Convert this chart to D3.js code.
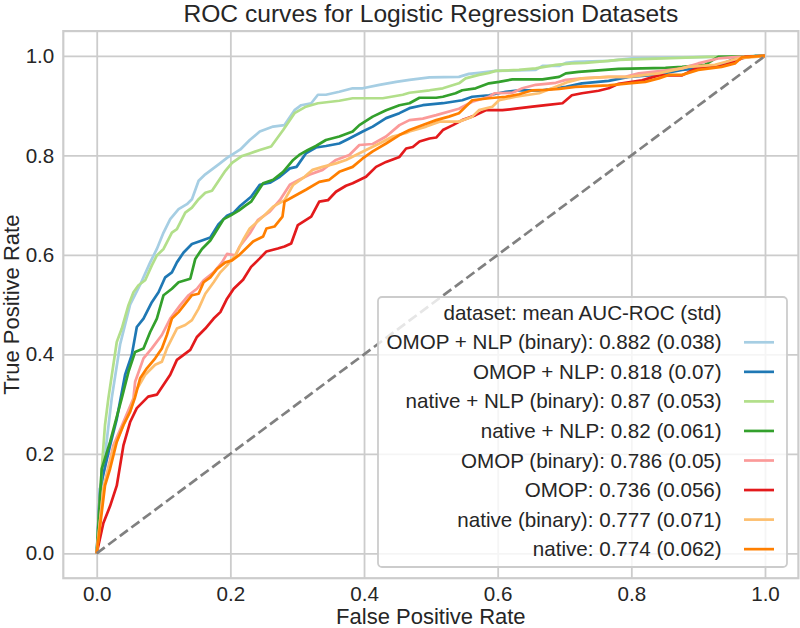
<!DOCTYPE html>
<html><head><meta charset="utf-8">
<script src="https://cdn.jsdelivr.net/npm/d3@7"></script>
<style>body{margin:0;background:#fff} text{font-family:"Liberation Sans",Arial,sans-serif;fill:#262626}</style>
</head><body><svg id="chart" width="800" height="628"></svg>
<script>
const titleText = "ROC curves for Logistic Regression Datasets";
const xLabel = "False Positive Rate";
const yLabel = "True Positive Rate";
const legendTitle = "dataset: mean AUC-ROC (std)";
const tickValues = [0, 0.2, 0.4, 0.6, 0.8, 1.0];
const seriesLabels = [
  "OMOP + NLP (binary): 0.882 (0.038)",
  "OMOP + NLP: 0.818 (0.07)",
  "native + NLP (binary): 0.87 (0.053)",
  "native + NLP: 0.82 (0.061)",
  "OMOP (binary): 0.786 (0.05)",
  "OMOP: 0.736 (0.056)",
  "native (binary): 0.777 (0.071)",
  "native: 0.774 (0.062)"
];
const seriesColors = ["#a6cee3","#1f78b4","#b2df8a","#33a02c","#fb9a99","#e31a1c","#fdbf6f","#ff7f00"];

// [fpr, tpr] pairs
const omopNlpBinary = [[0,0],[.01,.17],[.0225,.312],[.035,.42],[.05,.50],[.065,.54],[.08,.585],[.09,.612],[.1,.645],[.11,.672],[.1225,.692],[.135,.702],[.1425,.712],[.1525,.749],[.1625,.762],[.1725,.772],[.1825,.782],[.195,.795],[.215,.812],[.229,.831],[.244,.848],[.264,.858],[.281,.861],[.296,.891],[.306,.901],[.321,.905],[.331,.922],[.343,.922],[.363,.928],[.383,.935],[.398,.935],[.423,.942],[.448,.948],[.468,.952],[.498,.957],[.542,.958],[.557,.964],[.572,.966],[.597,.970],[.657,.972],[.667,.980],[.692,.980],[.702,.986],[.716,.988],[.766,.990],[.801,.995],[.915,.998],[1,1]];
const omopNlp = [[0,0],[.005,.13],[.02,.217],[.03,.27],[.0425,.359],[.0525,.399],[.06,.455],[.07,.472],[.0825,.505],[.0925,.525],[.1025,.555],[.1125,.565],[.12,.585],[.13,.605],[.1425,.622],[.1575,.629],[.17,.635],[.1825,.662],[.195,.679],[.205,.685],[.215,.699],[.231,.717],[.244,.741],[.259,.745],[.274,.757],[.289,.774],[.299,.777],[.313,.804],[.328,.816],[.343,.819],[.363,.824],[.378,.834],[.398,.848],[.413,.858],[.433,.875],[.453,.885],[.468,.895],[.488,.901],[.518,.905],[.547,.911],[.562,.918],[.587,.921],[.612,.928],[.632,.931],[.667,.931],[.702,.938],[.726,.945],[.766,.950],[.796,.958],[.836,.962],[.876,.972],[.925,.978],[.950,.992],[.985,1],[1,1]];
const nativeNlpBinary = [[0,0],[.0075,.17],[.0124,.258],[.0175,.312],[.03,.425],[.0375,.452],[.0475,.499],[.055,.525],[.0625,.539],[.0725,.549],[.0825,.579],[.09,.599],[.1,.612],[.1125,.645],[.12,.652],[.1325,.685],[.1425,.695],[.1525,.712],[.1625,.725],[.1725,.729],[.1825,.749],[.1925,.769],[.2025,.785],[.2175,.799],[.229,.804],[.244,.811],[.261,.818],[.279,.851],[.296,.885],[.313,.898],[.331,.905],[.363,.910],[.383,.915],[.428,.915],[.458,.922],[.468,.926],[.498,.931],[.518,.935],[.542,.945],[.552,.955],[.572,.962],[.587,.966],[.597,.970],[.632,.972],[.657,.975],[.687,.982],[.711,.985],[.731,.986],[.766,.990],[.781,.992],[.915,.998],[1,1]];
const nativeNlp = [[0,0],[.0075,.17],[.02,.224],[.0375,.312],[.0475,.365],[.0575,.405],[.07,.412],[.08,.445],[.09,.472],[.1,.519],[.1125,.532],[.1225,.545],[.14,.552],[.1475,.592],[.1575,.612],[.17,.629],[.1775,.645],[.19,.672],[.2,.679],[.2125,.689],[.2225,.699],[.231,.707],[.249,.744],[.264,.751],[.279,.767],[.294,.791],[.303,.801],[.316,.811],[.328,.819],[.343,.831],[.363,.838],[.383,.848],[.393,.861],[.413,.878],[.433,.891],[.453,.901],[.468,.905],[.483,.916],[.508,.916],[.518,.918],[.537,.925],[.547,.931],[.567,.935],[.587,.945],[.602,.948],[.622,.953],[.667,.953],[.692,.958],[.702,.965],[.721,.968],[.781,.974],[.851,.976],[.876,.978],[.910,.982],[.930,.998],[1,1]];
const omopBinary = [[0,0],[.01,.129],[.025,.217],[.04,.264],[.055,.312],[.0575,.345],[.07,.392],[.0825,.412],[.0975,.439],[.11,.472],[.125,.499],[.1375,.519],[.15,.532],[.16,.549],[.175,.565],[.1875,.585],[.195,.602],[.2075,.599],[.214,.617],[.229,.643],[.241,.670],[.259,.687],[.274,.710],[.289,.741],[.303,.751],[.318,.761],[.338,.771],[.358,.791],[.378,.801],[.393,.821],[.413,.823],[.433,.838],[.453,.861],[.468,.871],[.488,.874],[.508,.881],[.542,.894],[.562,.908],[.587,.918],[.595,.925],[.622,.926],[.637,.935],[.657,.942],[.687,.946],[.702,.952],[.726,.955],[.766,.958],[.791,.958],[.811,.965],[.846,.970],[.876,.975],[.900,.985],[.930,.995],[.960,.998],[1,1]];
const omop = [[0,0],[.01,.061],[.02,.095],[.03,.136],[.04,.217],[.05,.264],[.06,.292],[.077,.315],[.09,.319],[.1,.339],[.11,.359],[.12,.389],[.13,.399],[.14,.409],[.15,.435],[.1625,.452],[.175,.472],[.185,.485],[.195,.512],[.205,.532],[.219,.550],[.231,.576],[.244,.593],[.254,.607],[.271,.613],[.281,.617],[.291,.623],[.301,.660],[.321,.677],[.333,.707],[.346,.710],[.358,.727],[.373,.739],[.383,.744],[.403,.757],[.418,.777],[.433,.787],[.453,.797],[.463,.814],[.473,.817],[.483,.828],[.498,.834],[.508,.836],[.518,.851],[.533,.861],[.547,.871],[.567,.881],[.582,.891],[.607,.891],[.627,.894],[.652,.898],[.672,.901],[.697,.905],[.711,.921],[.726,.925],[.751,.930],[.766,.935],[.781,.944],[.801,.948],[.816,.951],[.841,.961],[.876,.961],[.895,.974],[.935,.980],[.950,.987],[.960,.992],[.970,.998],[1,1]];
const nativeBinary = [[0,0],[.01,.129],[.025,.21],[.04,.258],[.05,.285],[.06,.33],[.0725,.359],[.0875,.379],[.0975,.385],[.105,.412],[.12,.452],[.1325,.459],[.1425,.469],[.1525,.492],[.1625,.522],[.175,.545],[.185,.565],[.195,.579],[.2075,.599],[.219,.63],[.229,.653],[.249,.677],[.264,.697],[.281,.710],[.294,.741],[.311,.757],[.323,.771],[.338,.777],[.358,.784],[.373,.791],[.388,.801],[.403,.811],[.423,.824],[.443,.838],[.463,.845],[.468,.848],[.493,.858],[.513,.868],[.542,.868],[.562,.878],[.572,.891],[.592,.898],[.602,.911],[.627,.918],[.662,.925],[.687,.938],[.706,.948],[.726,.955],[.766,.958],[.796,.958],[.841,.965],[.885,.978],[.925,.982],[.960,.995],[1,1]];
const native = [[0,0],[.0124,.136],[.02,.17],[.03,.224],[.04,.258],[.05,.285],[.057,.312],[.065,.352],[.075,.372],[.0875,.392],[.0975,.412],[.105,.439],[.1125,.472],[.1225,.485],[.1325,.502],[.1425,.519],[.1525,.522],[.16,.545],[.17,.555],[.18,.572],[.1925,.585],[.2025,.589],[.2125,.599],[.2225,.612],[.234,.627],[.249,.637],[.254,.653],[.266,.657],[.278,.677],[.281,.707],[.294,.717],[.313,.731],[.333,.747],[.348,.751],[.363,.767],[.383,.777],[.398,.794],[.413,.808],[.433,.824],[.453,.841],[.468,.851],[.488,.861],[.508,.871],[.527,.878],[.542,.885],[.562,.911],[.587,.915],[.612,.918],[.632,.923],[.652,.931],[.672,.932],[.692,.934],[.716,.938],[.766,.941],[.796,.945],[.821,.948],[.841,.955],[.856,.962],[.876,.962],[.900,.972],[.935,.978],[.955,.985],[.965,.997],[.995,1],[1,1]];
const chanceLine = [[0,0],[1,1]];

const seriesData = [omopNlpBinary, omopNlp, nativeNlpBinary, nativeNlp, omopBinary, omop, nativeBinary, native];

const svg = d3.select("#chart");
const pLeft = 63.3, pRight = 798.4, pTop = 31.1, pBottom = 578.2;
const x = d3.scaleLinear().domain([-0.05, 1.05]).range([pLeft, pRight]);
const y = d3.scaleLinear().domain([-0.05, 1.05]).range([pBottom, pTop]);
const FONT = 20.6;

const xAxis = d3.axisBottom(x).tickValues(tickValues).tickFormat(d3.format(".1f")).tickSize(-(pBottom - pTop)).tickPadding(8);
const yAxis = d3.axisLeft(y).tickValues(tickValues).tickFormat(d3.format(".1f")).tickSize(-(pRight - pLeft)).tickPadding(9);
const gx = svg.append("g").attr("transform", `translate(0,${pBottom})`).call(xAxis);
const gy = svg.append("g").attr("transform", `translate(${pLeft},0)`).call(yAxis);
[gx, gy].forEach(g => {
  g.select(".domain").remove();
  g.selectAll(".tick line").attr("stroke", "#cccccc").attr("stroke-width", 1.8);
  g.selectAll(".tick text").attr("font-size", FONT).attr("fill", "#262626").style("font-family", '"Liberation Sans", Arial, sans-serif');
});

svg.append("rect").attr("x", pLeft).attr("y", pTop).attr("width", pRight - pLeft).attr("height", pBottom - pTop)
  .attr("fill", "none").attr("stroke", "#cccccc").attr("stroke-width", 2.2);

const line = d3.line().x(d => x(d[0])).y(d => y(d[1]));
seriesData.forEach((s, i) => {
  svg.append("path").datum(s).attr("d", line).attr("fill", "none")
    .attr("stroke", seriesColors[i]).attr("stroke-width", 2.7).attr("stroke-linejoin", "round");
});
svg.append("path").datum(chanceLine).attr("d", line).attr("fill", "none")
  .attr("stroke", "#808080").attr("stroke-width", 2.7).attr("stroke-dasharray", "10,4.4");

svg.append("text").attr("x", (pLeft + pRight) / 2).attr("y", 22).attr("text-anchor", "middle")
  .attr("font-size", 24.6).text(titleText);
svg.append("text").attr("x", (pLeft + pRight) / 2).attr("y", 624).attr("text-anchor", "middle")
  .attr("font-size", 22).text(xLabel);
svg.append("text").attr("transform", `translate(19,${(pTop + pBottom) / 2}) rotate(-90)`).attr("text-anchor", "middle")
  .attr("font-size", 22).text(yLabel);

const lg = svg.append("g");
lg.append("rect").attr("x", 378).attr("y", 297).attr("width", 409).attr("height", 270).attr("rx", 4)
  .attr("fill", "#ffffff").attr("fill-opacity", 0.8).attr("stroke", "#cccccc").attr("stroke-width", 1.8);
lg.append("text").attr("x", 582.5).attr("y", 320).attr("text-anchor", "middle").attr("font-size", FONT).text(legendTitle);
seriesLabels.forEach((lab, i) => {
  const cy = 342.3 + i * 29.55;
  lg.append("text").attr("x", 721.7).attr("y", cy + 7).attr("text-anchor", "end").attr("font-size", FONT).text(lab);
  lg.append("line").attr("x1", 744).attr("x2", 774).attr("y1", cy).attr("y2", cy)
    .attr("stroke", seriesColors[i]).attr("stroke-width", 2.7);
});
</script></body></html>
